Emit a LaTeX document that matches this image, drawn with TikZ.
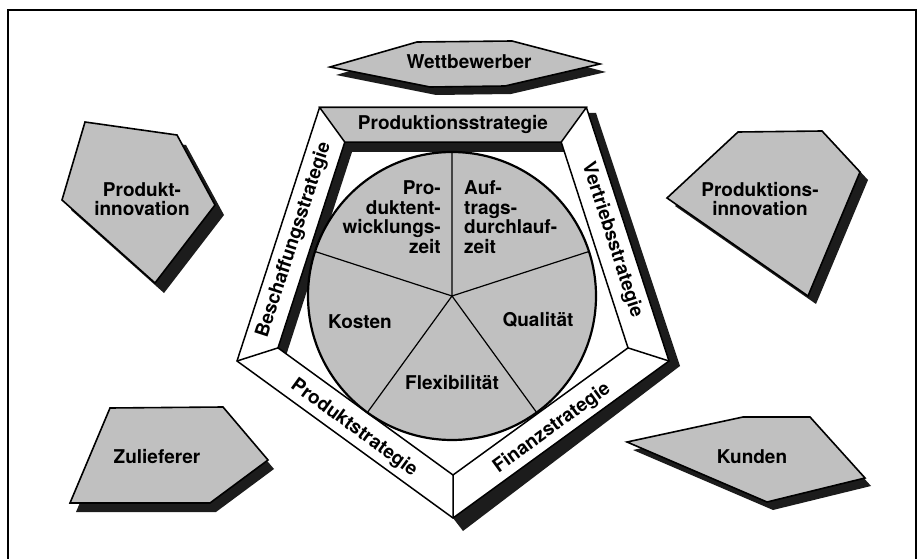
\documentclass[tikz,border=0pt]{standalone}
\usepackage{fontspec}
\setmainfont{TeX Gyre Heros}
\definecolor{shd}{RGB}{28,28,28}
\definecolor{fillg}{RGB}{192,192,192}
\begin{document}
\begin{tikzpicture}[x=1pt,y=-1pt,
  gshape/.style={fill=fillg, draw=black, line width=1.6pt, line join=miter},
  shadowfill/.style={fill=shd},
  frameline/.style={draw=black, line width=1.5pt, line join=miter},
  lbl/.style={font=\bfseries\fontsize{19}{19.5}\selectfont, inner sep=0pt, align=center}]
\useasboundingbox (0,0) rectangle (919,559);
% border
\draw[line width=1.3pt] (8,559) -- (8,10) -- (916,10) -- (916,559);

% ---------- outer shapes ----------
% Wettbewerber
\fill[shadowfill, shift={(6,8)}] (330,67)--(417,42)--(512,41)--(600,64)--(505,86)--(430,87)--cycle;
\path[gshape] (330,67)--(417,42)--(512,41)--(600,64)--(505,86)--(430,87)--cycle;
\node[lbl] (wb) at (469,62) {Wettbewerber};
% Produkt-innovation
\fill[shadowfill, shift={(9,10)}] (85,122)--(177,135)--(215,205)--(155,283)--(62,200)--cycle;
\path[gshape] (85,122)--(177,135)--(215,205)--(155,283)--(62,200)--cycle;
\node[lbl] (pi) at (142,199) {Produkt-\\innovation};
% Produktions-innovation
\fill[shadowfill, shift={(8,8)}] (667,198)--(738,132)--(822,131)--(860,172)--(808,296)--cycle;
\path[gshape] (667,198)--(738,132)--(822,131)--(860,172)--(808,296)--cycle;
\node[lbl] (pni) at (760,199) {Produktions-\\innovation};
% Zulieferer
\fill[shadowfill, shift={(6,9)}] (110,408)--(223,407)--(268,460)--(210,503)--(70,503)--cycle;
\path[gshape] (110,408)--(223,407)--(268,460)--(210,503)--(70,503)--cycle;
\node[lbl] (zu) at (157,457) {Zulieferer};
% Kunden
\fill[shadowfill, shift={(6,8)}] (627,442)--(743,417)--(810,417)--(865,478)--(767,502)--cycle;
\path[gshape] (627,442)--(743,417)--(810,417)--(865,478)--(767,502)--cycle;
\node[lbl] (ku) at (752,457) {Kunden};

% ---------- pentagon frame ----------
\coordinate (TL) at (319.6,107.4);
\coordinate (TR) at (586.4,107.4);
\coordinate (Rt) at (669,361);
\coordinate (B)  at (453,518);
\coordinate (L)  at (237,361);
\coordinate (TLi) at (344.8,142.1);
\coordinate (TRi) at (561.2,142.1);
\coordinate (Ri)  at (628,347.9);
\coordinate (Bi)  at (453,475);
\coordinate (Li)  at (278,347.9);
% shadow
\fill[shadowfill, even odd rule] (TL)--(596,113)--(680,366)--(463,531)--(B)--(L)--cycle
  (352,152)--(564.4,152)--(Ri)--(Bi)--(286.5,354.1)--cycle;
% frame
\path[frameline, fill=white, even odd rule] (TL)--(TR)--(Rt)--(B)--(L)--cycle
  (TLi)--(TRi)--(Ri)--(Bi)--(Li)--cycle;
\path[frameline, fill=fillg] (TL)--(TR)--(TRi)--(TLi)--cycle;
\draw[frameline] (Rt)--(Ri) (B)--(Bi) (L)--(Li);

% ---------- pie ----------
\coordinate (c) at (452,296);
\path[fill=fillg, draw=black, line width=2.2pt] (c) circle (144pt);
\draw[line width=1.2pt] (c) -- +(90:143pt) (c) -- +(162:143pt) (c) -- +(234:143pt)
  (c) -- +(306:143pt) (c) -- +(18:143pt);

\node[lbl, align=right, anchor=east] (pe) at (441,217) {Pro-\\duktent-\\wicklungs-\\zeit};
\node[lbl, align=left, anchor=west] (ad) at (464,217) {Auf-\\trags-\\durchlauf-\\zeit};
\node[lbl] (ko) at (360,322) {Kosten};
\node[lbl] (qu) at (538,320) {Qualität};
\node[lbl] (fl) at (452,383) {Flexibilität};

% ---------- band labels ----------
\node[lbl] (ps) at (453,124) {Produktionsstrategie};
\node[lbl, rotate=72] (bs) at (294,240) {Beschaffungsstrategie};
\node[lbl, rotate=-72] (vs) at (612,240) {Vertriebsstrategie};
\node[lbl, rotate=-36] (pr) at (354,428) {Produktstrategie};
\node[lbl, rotate=36] (fi) at (552,428) {Finanzstrategie};
\end{tikzpicture}
\end{document}
